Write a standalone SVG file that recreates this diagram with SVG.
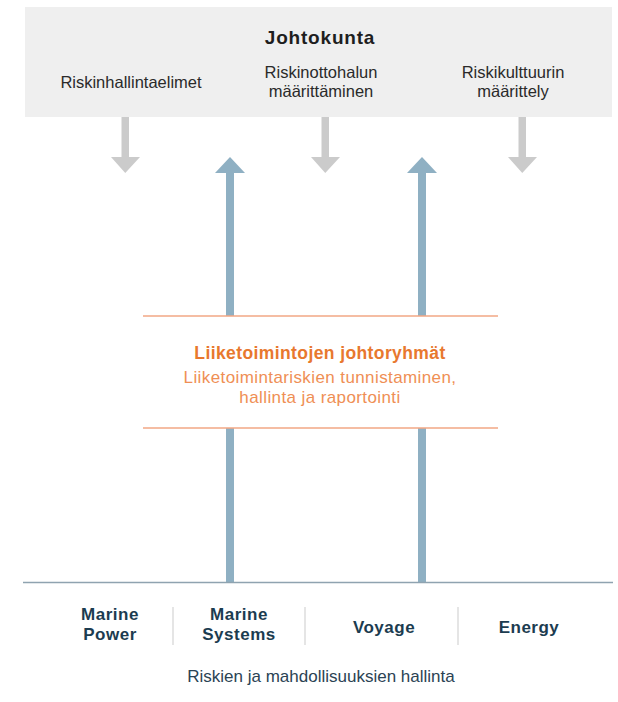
<svg xmlns="http://www.w3.org/2000/svg" width="618" height="702" viewBox="0 0 618 702">
<defs>
<style>
.t{font-family:"Liberation Sans",Arial,sans-serif;text-anchor:middle}
.top{font-size:16.5px;fill:#2a2a2a}
.head{font-size:19px;font-weight:bold;fill:#1e1e1e;letter-spacing:0.8px}
.oh{font-size:17.5px;font-weight:bold;fill:#e8782e;letter-spacing:0.4px}
.os{font-size:17px;fill:#ef8f55;letter-spacing:0.4px}
.bu{font-size:17px;font-weight:bold;fill:#1c3c50;letter-spacing:0.5px}
.bt{font-size:17px;fill:#2b4354}
.down{fill:#cbcbcb}
.up{fill:#8fb0c3}
.ol{stroke:#f2a784;stroke-width:1.5}
.sep{stroke:#dcdcdc;stroke-width:1.5}
</style>
</defs>
<g id="johtokunta">
<rect x="25" y="7" width="587" height="110" fill="#efefef"/>
<text class="t head" x="320" y="44">Johtokunta</text>
<text class="t top" x="131" y="88">Riskinhallintaelimet</text>
<text class="t top" x="321" y="78">Riskinottohalun</text>
<text class="t top" x="321" y="97">määrittäminen</text>
<text class="t top" x="513" y="78">Riskikulttuurin</text>
<text class="t top" x="513" y="97">määrittely</text>
</g>
<g id="connectors">
<path class="down" d="M121.5 117H129V157H140L125.25 173L111 157H121.5Z"/>
<path class="down" d="M321.5 117H329V157H340L325.25 173L311 157H321.5Z"/>
<path class="down" d="M518.5 117H526V157H537L522.25 173L508 157H518.5Z"/>
<path class="up" d="M226 316V173H215L230 157L245 173H234V316Z"/>
<path class="up" d="M418 316V173H407L422 157L437 173H426V316Z"/>
<rect class="up" x="226" y="428" width="8" height="154"/>
<rect class="up" x="418" y="428" width="8" height="154"/>
</g>
<g id="liiketoiminnot">
<line class="ol" x1="143" y1="316" x2="498" y2="316"/>
<line class="ol" x1="143" y1="428" x2="498" y2="428"/>
<text class="t oh" x="320" y="359">Liiketoimintojen johtoryhmät</text>
<text class="t os" x="320" y="383">Liiketoimintariskien tunnistaminen,</text>
<text class="t os" x="320" y="403">hallinta ja raportointi</text>
</g>
<g id="liiketoiminta-alueet">
<line x1="23" y1="582.5" x2="613" y2="582.5" stroke="#8fa3b0" stroke-width="1.5"/>
<line class="sep" x1="173" y1="607" x2="173" y2="645"/>
<line class="sep" x1="305" y1="607" x2="305" y2="645"/>
<line class="sep" x1="458" y1="607" x2="458" y2="645"/>
<text class="t bu" x="110" y="620">Marine</text>
<text class="t bu" x="110" y="640">Power</text>
<text class="t bu" x="239" y="620">Marine</text>
<text class="t bu" x="239" y="640">Systems</text>
<text class="t bu" x="384" y="633">Voyage</text>
<text class="t bu" x="529" y="633">Energy</text>
<text class="t bt" x="321" y="682">Riskien ja mahdollisuuksien hallinta</text>
</g>
</svg>
